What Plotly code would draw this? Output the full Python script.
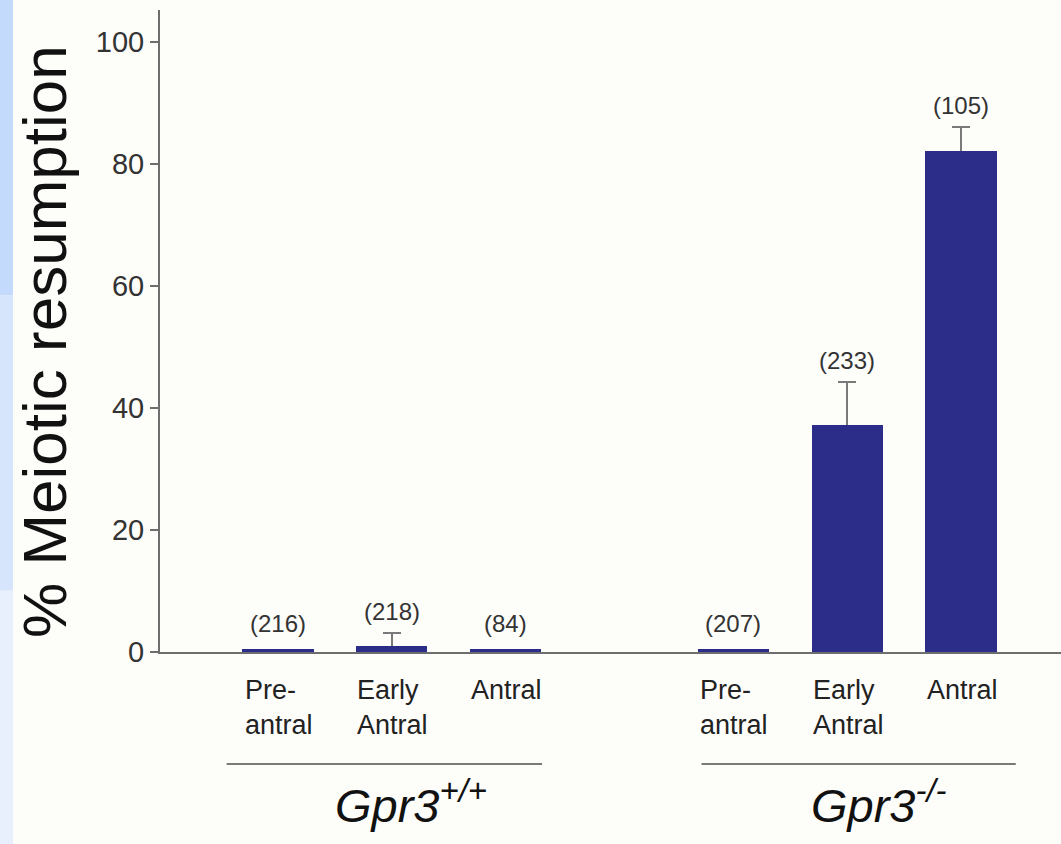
import plotly.graph_objects as go

# ---- data ----
categories = ["Pre-<br>antral", "Early<br>Antral", "Antral", "Pre-<br>antral", "Early<br>Antral", "Antral"]
positions = [0, 1, 2, 4, 5, 6]
values = [0.3, 0.8, 0.3, 0.3, 37.0, 82.0]
errors = [0.0, 2.3, 0.0, 0.0, 7.2, 4.0]
counts = ["(216)", "(218)", "(84)", "(207)", "(233)", "(105)"]
groups = ["<i>Gpr3<sup>+/+</sup></i>", "<i>Gpr3<sup>-/-</sup></i>"]
group_spans = [(-0.45, 2.32), (3.72, 6.48)]
group_centers = [1.17, 5.28]
y_ticks = [0, 20, 40, 60, 80, 100]

BAR = "#2c2d88"
AX = "#6e6e6e"
FONT = "Liberation Sans, Arial, sans-serif"

fig = go.Figure()
# error bars (drawn first, lower cap hidden by the overlay bar)
fig.add_trace(go.Bar(
    x=positions, y=values, width=0.61,
    marker=dict(color=BAR, line=dict(width=0)),
    error_y=dict(type="data", array=errors, symmetric=False, arrayminus=[0]*6,
                 color="#7a7a7a", thickness=2, width=9, visible=True),
    showlegend=False, hoverinfo="skip",
))
fig.add_trace(go.Bar(
    x=positions, y=values, width=0.61,
    marker=dict(color=BAR, line=dict(width=2, color=BAR)),
    showlegend=False,
))

annotations = []
# count labels
for p, v, e, c in zip(positions, values, errors, counts):
    annotations.append(dict(x=p, y=v + e, xref="x", yref="y", text=c, showarrow=False,
                            yanchor="bottom", yshift=6 if e > 0 else 11,
                            font=dict(size=24, color="#333333", family=FONT)))
# category labels
for p, c in zip(positions, categories):
    annotations.append(dict(x=p, y=-0.033, xref="x", yref="paper", text=c, showarrow=False,
                            yanchor="top", align="left", xshift=1,
                            font=dict(size=27, color="#222222", family=FONT)))
# group labels
for gx, g in zip(group_centers, groups):
    annotations.append(dict(x=gx, y=-0.234, xref="x", yref="paper", text=g, showarrow=False,
                            yanchor="middle",
                            font=dict(size=47, color="#111111", family=FONT)))
# y title
annotations.append(dict(x=-0.128, y=0.484, xref="paper", yref="paper", xanchor="center",
                        yanchor="middle",
                        text="% Meiotic resumption", textangle=-90, showarrow=False,
                        font=dict(size=62, color="#111111", family=FONT)))

shapes = []
for a, b in group_spans:
    shapes.append(dict(type="line", xref="x", yref="paper", x0=a, x1=b, y0=-0.1745, y1=-0.1745,
                       line=dict(color="#7a7a7a", width=2)))
# light blue strip at left edge
strip = [("#c3dafc", 0.0, 0.35), ("#d6e5fc", 0.35, 0.7), ("#e9f0fd", 0.7, 1.0)]
H = 844
for col, f0, f1 in strip:
    y0p = (652 - H * f1) / 642
    y1p = (652 - H * f0) / 642
    shapes.append(dict(type="rect", xref="paper", yref="paper",
                       x0=-160 / 901, x1=-147 / 901, y0=y0p, y1=y1p,
                       fillcolor=col, line=dict(width=0), layer="below"))

fig.update_layout(
    width=1061, height=844,
    margin=dict(l=160, r=0, t=10, b=192),
    paper_bgcolor="#fdfdfa", plot_bgcolor="#fdfdfa",
    font=dict(family=FONT),
    barmode="overlay",
    xaxis=dict(range=[-1.035, 6.877], showticklabels=False, ticks="", showgrid=False,
               zeroline=False, showline=True, linecolor=AX, linewidth=2),
    yaxis=dict(range=[0, 105.2], tickvals=y_ticks, ticks="outside", ticklen=8, tickwidth=2,
               tickcolor=AX, showline=True, linecolor=AX, linewidth=2, showgrid=False,
               zeroline=False, tickfont=dict(size=29, color="#333333", family=FONT)),
    annotations=annotations,
    shapes=shapes,
    bargap=0,
)

fig.write_html("out.html", config={"displayModeBar": False},
               post_script="document.body.style.margin='0';document.body.style.overflow='hidden';")
